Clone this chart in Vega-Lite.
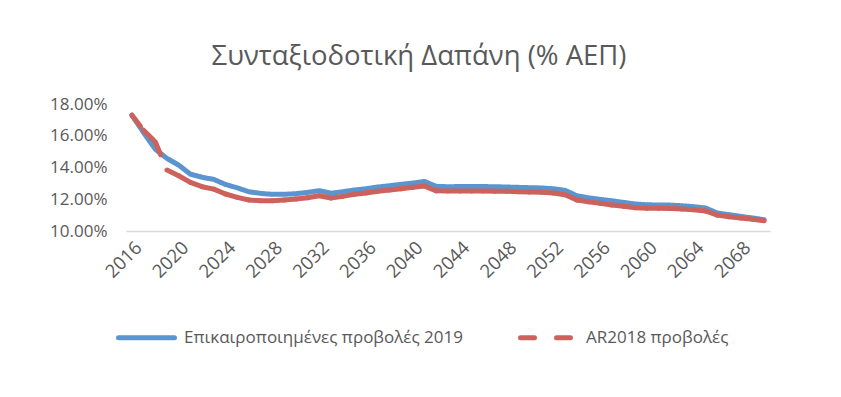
{
  "$schema": "https://vega.github.io/schema/vega-lite/v6.json",
  "width": 644,
  "height": 127,
  "autosize": {"type": "none"},
  "padding": {"left": 126, "top": 104, "right": 71, "bottom": 166},
  "background": "white",
  "config": {
    "view": {"stroke": null},
    "font": "Open Sans"
  },
  "title": {
    "text": "Συνταξιοδοτική Δαπάνη (% ΑΕΠ)",
    "font": "Open Sans",
    "fontSize": 27.5,
    "fontWeight": "normal",
    "color": "#595959",
    "anchor": "middle",
    "frame": "group",
    "dx": -29,
    "baseline": "alphabetic",
    "offset": 3
  },
  "data": {
    "values": [
      {"year": 2016, "upd": 0.1730, "ar": 0.1730},
      {"year": 2017, "upd": 0.1620, "ar": 0.1635},
      {"year": 2018, "upd": 0.1515, "ar": 0.1562},
      {"year": 2019, "upd": 0.1457, "ar": 0.1384},
      {"year": 2020, "upd": 0.1415, "ar": 0.1348},
      {"year": 2021, "upd": 0.1358, "ar": 0.1306},
      {"year": 2022, "upd": 0.1338, "ar": 0.1279},
      {"year": 2023, "upd": 0.1325, "ar": 0.1264},
      {"year": 2024, "upd": 0.1293, "ar": 0.1233},
      {"year": 2025, "upd": 0.1272, "ar": 0.1212},
      {"year": 2026, "upd": 0.1247, "ar": 0.1195},
      {"year": 2027, "upd": 0.1237, "ar": 0.1191},
      {"year": 2028, "upd": 0.1231, "ar": 0.1191},
      {"year": 2029, "upd": 0.1231, "ar": 0.1195},
      {"year": 2030, "upd": 0.1235, "ar": 0.1201},
      {"year": 2031, "upd": 0.1243, "ar": 0.1209},
      {"year": 2032, "upd": 0.1254, "ar": 0.1222},
      {"year": 2033, "upd": 0.1238, "ar": 0.1208},
      {"year": 2034, "upd": 0.1247, "ar": 0.1218},
      {"year": 2035, "upd": 0.1258, "ar": 0.1231},
      {"year": 2036, "upd": 0.1266, "ar": 0.1239},
      {"year": 2037, "upd": 0.1277, "ar": 0.1250},
      {"year": 2038, "upd": 0.1285, "ar": 0.1258},
      {"year": 2039, "upd": 0.1294, "ar": 0.1266},
      {"year": 2040, "upd": 0.1302, "ar": 0.1275},
      {"year": 2041, "upd": 0.1312, "ar": 0.1283},
      {"year": 2042, "upd": 0.1281, "ar": 0.1253},
      {"year": 2043, "upd": 0.1279, "ar": 0.1252},
      {"year": 2044, "upd": 0.1280, "ar": 0.1252},
      {"year": 2045, "upd": 0.1280, "ar": 0.1252},
      {"year": 2046, "upd": 0.1280, "ar": 0.1252},
      {"year": 2047, "upd": 0.1279, "ar": 0.1251},
      {"year": 2048, "upd": 0.1277, "ar": 0.1250},
      {"year": 2049, "upd": 0.1275, "ar": 0.1248},
      {"year": 2050, "upd": 0.1273, "ar": 0.1246},
      {"year": 2051, "upd": 0.1271, "ar": 0.1244},
      {"year": 2052, "upd": 0.1266, "ar": 0.1239},
      {"year": 2053, "upd": 0.1256, "ar": 0.1228},
      {"year": 2054, "upd": 0.1222, "ar": 0.1195},
      {"year": 2055, "upd": 0.1209, "ar": 0.1184},
      {"year": 2056, "upd": 0.1199, "ar": 0.1174},
      {"year": 2057, "upd": 0.1190, "ar": 0.1164},
      {"year": 2058, "upd": 0.1180, "ar": 0.1156},
      {"year": 2059, "upd": 0.1170, "ar": 0.1147},
      {"year": 2060, "upd": 0.1165, "ar": 0.1143},
      {"year": 2061, "upd": 0.1164, "ar": 0.1143},
      {"year": 2062, "upd": 0.1163, "ar": 0.1142},
      {"year": 2063, "upd": 0.1159, "ar": 0.1138},
      {"year": 2064, "upd": 0.1153, "ar": 0.1134},
      {"year": 2065, "upd": 0.1145, "ar": 0.1126},
      {"year": 2066, "upd": 0.1113, "ar": 0.1100},
      {"year": 2067, "upd": 0.1103, "ar": 0.1090},
      {"year": 2068, "upd": 0.1092, "ar": 0.1082},
      {"year": 2069, "upd": 0.1082, "ar": 0.1074},
      {"year": 2070, "upd": 0.1071, "ar": 0.1065}
    ]
  },
  "transform": [
    {"fold": ["upd", "ar"], "as": ["series", "value"]}
  ],
  "encoding": {
    "x": {
      "field": "year",
      "type": "quantitative",
      "scale": {"domain": [2015.5, 2070.5], "nice": false, "zero": false},
      "axis": {
        "title": null,
        "values": [2016, 2020, 2024, 2028, 2032, 2036, 2040, 2044, 2048, 2052, 2056, 2060, 2064, 2068],
        "format": "d",
        "labelAngle": -45,
        "labelFont": "Open Sans",
        "labelFontSize": 18.5,
        "labelColor": "#595959",
        "labelPadding": 7,
        "ticks": false,
        "grid": false,
        "domainColor": "#d9d9d9",
        "domainWidth": 1.5,
        "labelOverlap": false
      }
    },
    "y": {
      "field": "value",
      "type": "quantitative",
      "scale": {"domain": [0.10, 0.18], "nice": false, "zero": false},
      "axis": {
        "title": null,
        "values": [0.10, 0.12, 0.14, 0.16, 0.18],
        "format": ".2%",
        "labelFont": "Open Sans",
        "labelFontSize": 17,
        "labelColor": "#595959",
        "labelPadding": 19,
        "ticks": false,
        "grid": false,
        "domain": false
      }
    },
    "color": {
      "field": "series",
      "type": "nominal",
      "scale": {"domain": ["upd", "ar"], "range": ["#5B95CF", "#CD625C"]},
      "legend": {
        "title": null,
        "orient": "none",
        "legendX": -10,
        "legendY": 203,
        "direction": "horizontal",
        "columns": 2,
        "columnPadding": 47,
        "symbolType": "stroke",
        "symbolSize": 3136,
        "symbolStrokeWidth": 5,
        "labelFont": "Open Sans",
        "labelFontSize": 17,
        "labelColor": "#595959",
        "labelOffset": 7,
        "labelLimit": 400,
        "labelExpr": "datum.label === 'upd' ? 'Επικαιροποιημένες προβολές 2019' : 'AR2018 προβολές'",
        "encode": {"symbols": {"update": {"strokeCap": {"value": "round"}}}}
      }
    }
  },
  "layer": [
    {
      "transform": [{"filter": "datum.series === 'upd'"}],
      "mark": {"type": "line", "strokeWidth": 5, "strokeCap": "round", "strokeJoin": "round"},
      "encoding": {
        "strokeDash": {
          "field": "series",
          "type": "nominal",
          "scale": {"domain": ["upd", "ar"], "range": [[1, 0], [14, 22]]},
          "legend": null
        }
      }
    },
    {
      "transform": [
        {"filter": "datum.series === 'ar'"},
        {
          "window": [
            {"op": "lead", "field": "year", "as": "year2"},
            {"op": "lead", "field": "value", "as": "value2"}
          ],
          "sort": [{"field": "year", "order": "ascending"}]
        },
        {"filter": "datum.year2 != null"}
      ],
      "mark": {"type": "rule", "strokeWidth": 5, "strokeCap": "round"},
      "encoding": {
        "x2": {"field": "year2"},
        "y2": {"field": "value2"},
        "strokeDash": {
          "field": "series",
          "type": "nominal",
          "scale": {"domain": ["upd", "ar"], "range": [[1, 0], [14, 22]]},
          "legend": null
        }
      }
    }
  ]
}
